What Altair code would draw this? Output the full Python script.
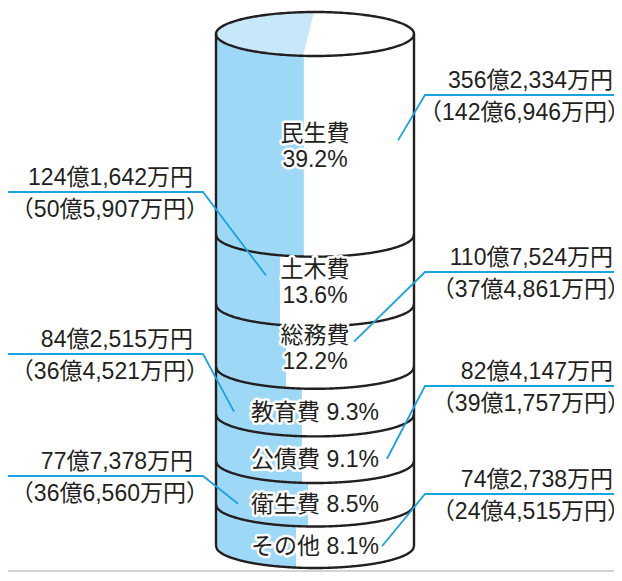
import altair as alt
import numpy as np
import pandas as pd

# ---------------- data (top segment first) ----------------
categories = ["民生費", "土木費", "総務費", "教育費", "公債費", "衛生費", "その他"]
shares = [39.2, 13.6, 12.2, 9.3, 9.1, 8.5, 8.1]
amounts = ["356億2,334万円", "124億1,642万円", "110億7,524万円", "84億2,515万円",
           "82億4,147万円", "77億7,378万円", "74億2,738万円"]
sub_amounts = ["（142億6,946万円）", "（50億5,907万円）", "（37億4,861万円）", "（36億4,521万円）",
               "（39億1,757万円）", "（36億6,560万円）", "（24億4,515万円）"]
blue_share = [0.444, 0.323, 0.354, 0.434, 0.434, 0.465, 0.404]  # share of the front face shaded blue

# ---------------- layout (page pixels) ----------------
W, H = 606, 565
CX, RX = 315, 99          # cylinder centre / half width
Y0, SCALE = 546, 5.12     # page y of 0 %, pixels per %
RY_PX = 22                # ellipse half height
side = ["right", "left", "right", "left", "right", "left", "right"]
two_line = [True, True, True, False, False, False, False]
label_line_y = [95, 192, 272, 354, 386, 476, 494]
leader_end_x = [398, 266, 354, 234, 387, 238, 382]
LEFT_ELBOW, RIGHT_ELBOW = 203, 425

BLUE = "#9dd9f6"
LIGHT = "#c6e8f9"
INK = "#231f20"
CYAN = "#1aa3df"
FONT = "Liberation Sans, Noto Sans CJK JP, sans-serif"


def u(px):
    return (px - CX) / RX


def p(py):
    return (Y0 - py) / SCALE


RY = RY_PX / SCALE
xdom = [u(8), u(8 + W)]
ydom = [p(8 + H), p(8)]
X = alt.X("x:Q", scale=alt.Scale(domain=xdom, nice=False, zero=False), axis=None)
Y = alt.Y("y:Q", scale=alt.Scale(domain=ydom, nice=False, zero=False), axis=None)

n = len(categories)
bottoms = [sum(shares[i + 1:]) for i in range(n)]
tops = [bottoms[i] + shares[i] for i in range(n)]

layers = []
xs = np.linspace(-1, 1, 241)

# segment faces, bottom first so each upper segment covers the bulge it owns
for i in reversed(range(n)):
    bx = -1 + 2 * blue_share[i]
    for lo, hi, col in [(-1, bx, BLUE), (bx, 1, "white")]:
        xx = np.concatenate([[lo], xs[(xs > lo) & (xs < hi)], [hi]])
        df = pd.DataFrame({
            "x": xx,
            "y": tops[i],
            "y2": bottoms[i] - RY * np.sqrt(np.clip(1 - xx ** 2, 0, None)),
        })
        layers.append(alt.Chart(df).mark_area(color=col).encode(x=X, y=Y, y2="y2:Q"))

# top face
TOP = 100.0
half = RY * np.sqrt(np.clip(1 - xs ** 2, 0, None))
layers.append(alt.Chart(pd.DataFrame({"x": xs, "y": TOP + half, "y2": TOP - half}))
              .mark_area(color="white").encode(x=X, y=Y, y2="y2:Q"))
xb, xt = -0.121, -0.010
yb = TOP - RY * np.sqrt(1 - xb ** 2)
yt = TOP + RY * np.sqrt(1 - xt ** 2)
xl = np.concatenate([xs[xs < xb], [xb], np.linspace(xb, xt, 12)[1:]])
low = np.where(xl <= xb, TOP - RY * np.sqrt(np.clip(1 - xl ** 2, 0, None)),
               yb + (yt - yb) * (xl - xb) / (xt - xb))
layers.append(alt.Chart(pd.DataFrame({"x": xl, "y": TOP + RY * np.sqrt(np.clip(1 - xl ** 2, 0, None)), "y2": low}))
              .mark_area(color=LIGHT).encode(x=X, y=Y, y2="y2:Q"))

# outlines
arc_rows = []
for b in [0.0] + sorted(set(bottoms[:-1])):
    for x in xs:
        arc_rows.append({"b": b, "x": x, "y": b - RY * np.sqrt(max(0.0, 1 - x ** 2))})
layers.append(alt.Chart(pd.DataFrame(arc_rows)).mark_line(color=INK, strokeWidth=2.4)
              .encode(x=X, y=Y, detail="b:N", order="x:Q"))
t = np.linspace(0, 2 * np.pi, 241)
layers.append(alt.Chart(pd.DataFrame({"t": t, "x": np.cos(t), "y": TOP + RY * np.sin(t)}))
              .mark_line(color=INK, strokeWidth=2.4).encode(x=X, y=Y, order="t:Q"))
layers.append(alt.Chart(pd.DataFrame({"x": [-1.0, 1.0], "y": [0.0, 0.0], "y2": [TOP, TOP]}))
              .mark_rule(color=INK, strokeWidth=2.4).encode(x=X, y=Y, y2="y2:Q"))

# labels
seg_rows, side_rows, lead_rows = [], [], []
for i in range(n):
    mid = (tops[i] + bottoms[i]) / 2 - RY
    if two_line[i]:
        mid += 9 / SCALE
        seg_rows.append({"x": 0.0, "y": mid + 13 / SCALE, "text": categories[i]})
        seg_rows.append({"x": 0.0, "y": mid - 13 / SCALE, "text": f"{shares[i]}%"})
        end_y = mid + 7 / SCALE
    else:
        seg_rows.append({"x": 0.0, "y": mid, "text": f"{categories[i]} {shares[i]}%"})
        end_y = mid + 1 / SCALE
    ly = p(label_line_y[i])
    if side[i] == "left":
        side_rows.append({"x": u(193), "y": ly + 14 / SCALE, "text": amounts[i]})
        side_rows.append({"x": u(209), "y": ly - 18 / SCALE, "text": sub_amounts[i]})
        pts = [(u(8), ly), (u(LEFT_ELBOW), ly), (u(leader_end_x[i]), end_y)]
    else:
        side_rows.append({"x": u(613), "y": ly + 14 / SCALE, "text": amounts[i]})
        side_rows.append({"x": u(630), "y": ly - 18 / SCALE, "text": sub_amounts[i]})
        pts = [(u(8 + W), ly), (u(RIGHT_ELBOW), ly), (u(leader_end_x[i]), end_y)]
    for k, (px_, py_) in enumerate(pts):
        lead_rows.append({"id": categories[i], "k": k, "x": px_, "y": py_})

layers.append(alt.Chart(pd.DataFrame(lead_rows)).mark_line(color=CYAN, strokeWidth=1.8)
              .encode(x=X, y=Y, detail="id:N", order="k:Q"))

seg_df = pd.DataFrame(seg_rows)
layers.append(alt.Chart(seg_df).mark_text(font=FONT, fontSize=23, align="center",
                                          baseline="middle", color="white", stroke="white",
                                          strokeWidth=5, strokeJoin="round")
              .encode(x=X, y=Y, text="text:N"))
layers.append(alt.Chart(seg_df).mark_text(font=FONT, fontSize=23, align="center",
                                          baseline="middle", color=INK)
              .encode(x=X, y=Y, text="text:N"))
layers.append(alt.Chart(pd.DataFrame(side_rows)).mark_text(font=FONT, fontSize=23, align="right",
                                                          baseline="middle", color=INK)
              .encode(x=X, y=Y, text="text:N"))

# thin grey rule along the bottom edge
layers.append(alt.Chart(pd.DataFrame({"x": [xdom[0]], "x2": [xdom[1]], "y": [p(571)]}))
              .mark_rule(color="#d4d4d4", strokeWidth=2).encode(x=X, x2="x2:Q", y=Y))

chart = alt.layer(*layers).properties(
    width=W, height=H, padding=0, autosize=alt.AutoSizeParams(type="none"), background="white"
).configure_view(stroke=None)

chart.save("out.html", embed_options={"renderer": "svg", "actions": False})
